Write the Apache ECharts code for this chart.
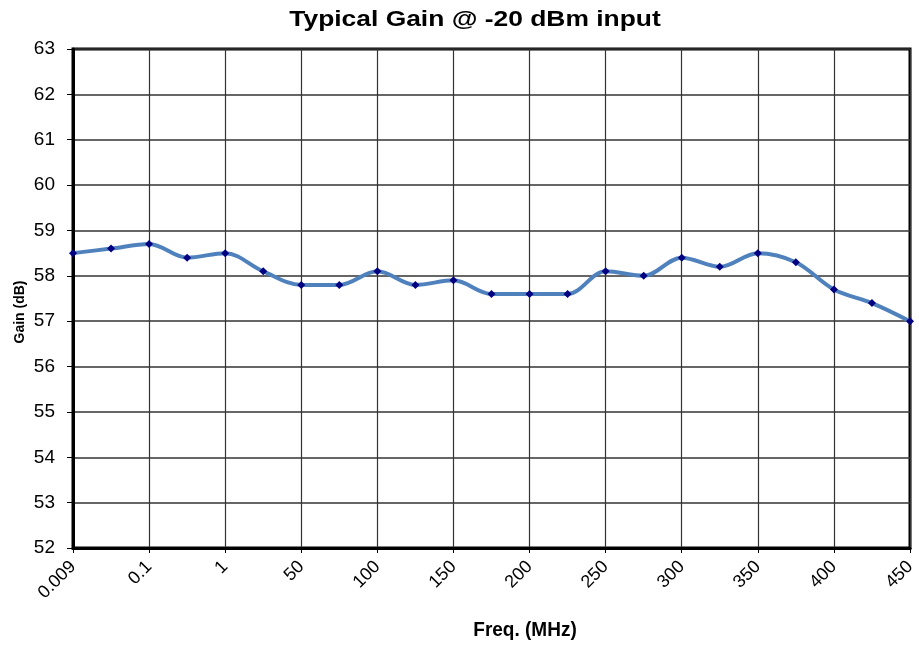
<!DOCTYPE html>
<html>
<head>
<meta charset="utf-8">
<script src="https://cdn.jsdelivr.net/npm/echarts@6/dist/echarts.min.js"></script>
<style>
  html, body { margin: 0; padding: 0; background: #ffffff; }
  #chart { width: 919px; height: 647px; }
</style>
</head>
<body>
<div id="chart"></div>
<script>
// frequency points (MHz); odd entries are the unlabeled midpoints
const freqs = [
  "0.009", "0.05", "0.1", "0.5", "1", "25", "50", "75", "100", "125", "150", "175",
  "200", "225", "250", "275", "300", "325", "350", "375", "400", "425", "450"
];
const gainDb = [
  58.5, 58.6, 58.7, 58.4, 58.5, 58.1, 57.8, 57.8, 58.1, 57.8, 57.9, 57.6,
  57.6, 57.6, 58.1, 58.0, 58.4, 58.2, 58.5, 58.3, 57.7, 57.4, 57.0
];
const gainMin = 52;
const gainMax = 63;

const font = '"Liberation Sans", Arial, sans-serif';
const labeled = (idx) => idx % 2 === 0;

const chart = echarts.init(document.getElementById("chart"), null, { renderer: "canvas" });
chart.setOption({
  backgroundColor: "#ffffff",
  animation: false,
  grid: {
    left: 73, right: 9, top: 49, bottom: 99,
    show: true, borderColor: "#000000", borderWidth: 3, backgroundColor: "transparent"
  },
  xAxis: {
    type: "category",
    data: freqs,
    boundaryGap: false,
    axisLine: { lineStyle: { color: "#000000", width: 3 } },
    axisTick: { show: true, interval: labeled, length: 5, lineStyle: { color: "#000000" } },
    axisLabel: {
      interval: labeled, rotate: 45, margin: 16,
      fontFamily: font, fontSize: 18, color: "#000000"
    },
    splitLine: { show: true, interval: labeled, lineStyle: { color: "#333333", width: 1.2 } }
  },
  yAxis: {
    type: "value",
    min: gainMin,
    max: gainMax,
    interval: 1,
    axisLine: { show: true, lineStyle: { color: "#000000", width: 3 } },
    axisTick: { show: true, length: 6, lineStyle: { color: "#000000" } },
    axisLabel: { fontFamily: font, fontSize: 19, color: "#000000", margin: 18 },
    splitLine: { show: true, lineStyle: { color: "#333333", width: 1.5 } }
  },
  graphic: [
    {
      type: "text",
      x: 475, y: 9,
      scaleX: 1.2,
      style: {
        text: "Typical Gain @ -20 dBm input", font: "bold 22px " + font,
        fill: "#000000", align: "center", verticalAlign: "top"
      }
    },
    {
      type: "text",
      x: 525, y: 630,
      scaleX: 0.95,
      style: {
        text: "Freq. (MHz)", font: "bold 20px " + font,
        fill: "#000000", align: "center", verticalAlign: "middle"
      }
    },
    {
      type: "text",
      x: 20, y: 312,
      rotation: Math.PI / 2,
      style: {
        text: "Gain (dB)", font: "bold 14px " + font,
        fill: "#000000", align: "center", verticalAlign: "middle"
      }
    }
  ],
  series: [{
    type: "line",
    data: gainDb,
    smooth: 0.35,
    symbol: "diamond",
    symbolSize: 8,
    lineStyle: { color: "#4f81bd", width: 4 },
    itemStyle: { color: "#000080" },
    z: 5
  }]
});
</script>
</body>
</html>
